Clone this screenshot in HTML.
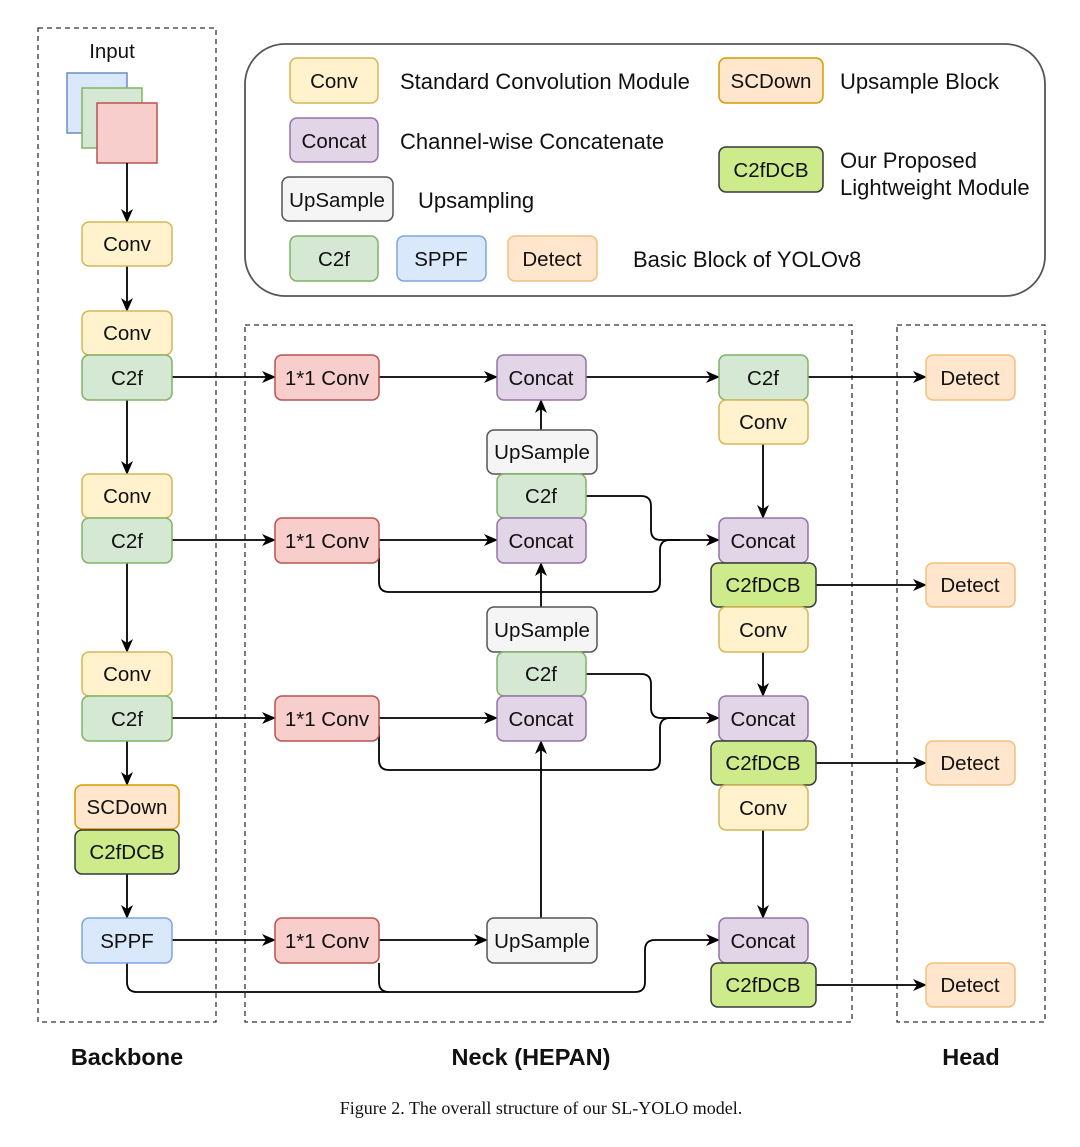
<!DOCTYPE html>
<html><head><meta charset="utf-8"><style>
body{margin:0;background:#fff}
svg text{font-family:"Liberation Sans",sans-serif;font-size:20.5px;fill:#111}
</style></head><body>
<svg width="1080" height="1142" viewBox="0 0 1080 1142" xmlns="http://www.w3.org/2000/svg">
<defs><marker id="a" markerWidth="14" markerHeight="12" refX="13" refY="6" orient="auto" markerUnits="userSpaceOnUse"><path d="M0,0 L14,6 L0,12 L4,6 z" fill="#000"/></marker></defs>
<rect width="1080" height="1142" fill="#fff"/>
<g fill="none" stroke="#333" stroke-width="1.3" stroke-dasharray="5,4">
<rect x="38" y="28" width="178" height="994"/>
<rect x="245" y="325" width="607" height="697"/>
<rect x="897" y="325" width="148" height="697"/>
</g>
<rect x="245" y="44" width="800" height="252" rx="40" fill="none" stroke="#555" stroke-width="1.8"/>
<text x="112" y="58" text-anchor="middle">Input</text>
<rect x="67" y="73" width="60" height="60" fill="#dae8fc" stroke="#6c8ebf" stroke-width="1.5"/>
<rect x="82" y="88" width="60" height="60" fill="#d5e8d4" stroke="#82b366" stroke-width="1.5"/>
<rect x="97" y="103" width="60" height="60" fill="#f8cecc" stroke="#b85450" stroke-width="1.5"/>
<g fill="none" stroke="#000" stroke-width="1.8">
<path d="M127,163V222" marker-end="url(#a)"/>
<path d="M127,266V311" marker-end="url(#a)"/>
<path d="M127,400V474" marker-end="url(#a)"/>
<path d="M127,563V652" marker-end="url(#a)"/>
<path d="M127,741V785" marker-end="url(#a)"/>
<path d="M127,874V918" marker-end="url(#a)"/>
<path d="M172,377H275" marker-end="url(#a)"/>
<path d="M172,540H275" marker-end="url(#a)"/>
<path d="M172,718H275" marker-end="url(#a)"/>
<path d="M172,940H275" marker-end="url(#a)"/>
<path d="M379,377H497" marker-end="url(#a)"/>
<path d="M586,377H719" marker-end="url(#a)"/>
<path d="M808,377H926" marker-end="url(#a)"/>
<path d="M541,430V400" marker-end="url(#a)"/>
<path d="M379,540H497" marker-end="url(#a)"/>
<path d="M379,548V582Q379,592 389,592H650Q660,592 660,582V550Q660,540 670,540H719" marker-end="url(#a)"/>
<path d="M586,496H641Q651,496 651,506V530Q651,540 661,540H680"/>
<path d="M541,607V563" marker-end="url(#a)"/>
<path d="M379,718H497" marker-end="url(#a)"/>
<path d="M379,726V760Q379,770 389,770H650Q660,770 660,760V728Q660,718 670,718H719" marker-end="url(#a)"/>
<path d="M586,674H641Q651,674 651,684V708Q651,718 661,718H680"/>
<path d="M541,918V741" marker-end="url(#a)"/>
<path d="M379,940H487" marker-end="url(#a)"/>
<path d="M127,963V982Q127,992 137,992H635Q645,992 645,982V950Q645,940 655,940H719" marker-end="url(#a)"/>
<path d="M379,963V982Q379,992 389,992"/>
<path d="M763,444V518" marker-end="url(#a)"/>
<path d="M763,652V696" marker-end="url(#a)"/>
<path d="M763,830V918" marker-end="url(#a)"/>
<path d="M816,585H926" marker-end="url(#a)"/>
<path d="M816,763H926" marker-end="url(#a)"/>
<path d="M816,985H926" marker-end="url(#a)"/>
</g>
<g stroke-width="1.5">
<rect x="290" y="58" width="88" height="45" rx="7" fill="#fff2cc" stroke="#d6b656"/><text x="334" y="88" text-anchor="middle">Conv</text>
<rect x="290" y="118" width="88" height="44" rx="7" fill="#e1d5e7" stroke="#9673a6"/><text x="334" y="148" text-anchor="middle">Concat</text>
<rect x="282" y="177" width="111" height="44" rx="7" fill="#f5f5f5" stroke="#555"/><text x="337" y="207" text-anchor="middle">UpSample</text>
<rect x="290" y="236" width="88" height="45" rx="7" fill="#d5e8d4" stroke="#82b366"/><text x="334" y="266" text-anchor="middle">C2f</text>
<rect x="397" y="236" width="89" height="45" rx="7" fill="#dae8fc" stroke="#7ea6e0"/><text x="441" y="266" text-anchor="middle">SPPF</text>
<rect x="508" y="236" width="89" height="45" rx="7" fill="#ffe6cc" stroke="#f0c080"/><text x="552" y="266" text-anchor="middle">Detect</text>
<rect x="719" y="58" width="104" height="45" rx="7" fill="#ffe6cc" stroke="#d79b00"/><text x="771" y="88" text-anchor="middle">SCDown</text>
<rect x="719" y="147" width="104" height="45" rx="7" fill="#cdeb8b" stroke="#36393d"/><text x="771" y="177" text-anchor="middle">C2fDCB</text>
<rect x="82" y="222" width="90" height="44" rx="7" fill="#fff2cc" stroke="#d6b656"/><text x="127" y="251" text-anchor="middle">Conv</text>
<rect x="82" y="311" width="90" height="44" rx="7" fill="#fff2cc" stroke="#d6b656"/><text x="127" y="340" text-anchor="middle">Conv</text>
<rect x="82" y="355" width="90" height="45" rx="7" fill="#d5e8d4" stroke="#82b366"/><text x="127" y="385" text-anchor="middle">C2f</text>
<rect x="82" y="474" width="90" height="44" rx="7" fill="#fff2cc" stroke="#d6b656"/><text x="127" y="503" text-anchor="middle">Conv</text>
<rect x="82" y="518" width="90" height="45" rx="7" fill="#d5e8d4" stroke="#82b366"/><text x="127" y="548" text-anchor="middle">C2f</text>
<rect x="82" y="652" width="90" height="44" rx="7" fill="#fff2cc" stroke="#d6b656"/><text x="127" y="681" text-anchor="middle">Conv</text>
<rect x="82" y="696" width="90" height="45" rx="7" fill="#d5e8d4" stroke="#82b366"/><text x="127" y="726" text-anchor="middle">C2f</text>
<rect x="75" y="785" width="104" height="44" rx="7" fill="#ffe6cc" stroke="#d79b00"/><text x="127" y="814" text-anchor="middle">SCDown</text>
<rect x="75" y="830" width="104" height="44" rx="7" fill="#cdeb8b" stroke="#36393d"/><text x="127" y="859" text-anchor="middle">C2fDCB</text>
<rect x="82" y="918" width="90" height="45" rx="7" fill="#dae8fc" stroke="#7ea6e0"/><text x="127" y="948" text-anchor="middle">SPPF</text>
<rect x="275" y="355" width="104" height="45" rx="7" fill="#f8cecc" stroke="#b85450"/><text x="327" y="385" text-anchor="middle">1*1 Conv</text>
<rect x="275" y="518" width="104" height="45" rx="7" fill="#f8cecc" stroke="#b85450"/><text x="327" y="548" text-anchor="middle">1*1 Conv</text>
<rect x="275" y="696" width="104" height="45" rx="7" fill="#f8cecc" stroke="#b85450"/><text x="327" y="726" text-anchor="middle">1*1 Conv</text>
<rect x="275" y="918" width="104" height="45" rx="7" fill="#f8cecc" stroke="#b85450"/><text x="327" y="948" text-anchor="middle">1*1 Conv</text>
<rect x="497" y="355" width="89" height="45" rx="7" fill="#e1d5e7" stroke="#9673a6"/><text x="541" y="385" text-anchor="middle">Concat</text>
<rect x="487" y="430" width="110" height="44" rx="7" fill="#f5f5f5" stroke="#555"/><text x="542" y="459" text-anchor="middle">UpSample</text>
<rect x="497" y="474" width="89" height="44" rx="7" fill="#d5e8d4" stroke="#82b366"/><text x="541" y="503" text-anchor="middle">C2f</text>
<rect x="497" y="518" width="89" height="45" rx="7" fill="#e1d5e7" stroke="#9673a6"/><text x="541" y="548" text-anchor="middle">Concat</text>
<rect x="487" y="607" width="110" height="45" rx="7" fill="#f5f5f5" stroke="#555"/><text x="542" y="637" text-anchor="middle">UpSample</text>
<rect x="497" y="652" width="89" height="44" rx="7" fill="#d5e8d4" stroke="#82b366"/><text x="541" y="681" text-anchor="middle">C2f</text>
<rect x="497" y="696" width="89" height="45" rx="7" fill="#e1d5e7" stroke="#9673a6"/><text x="541" y="726" text-anchor="middle">Concat</text>
<rect x="487" y="918" width="110" height="45" rx="7" fill="#f5f5f5" stroke="#555"/><text x="542" y="948" text-anchor="middle">UpSample</text>
<rect x="719" y="355" width="89" height="45" rx="7" fill="#d5e8d4" stroke="#82b366"/><text x="763" y="385" text-anchor="middle">C2f</text>
<rect x="719" y="400" width="89" height="44" rx="7" fill="#fff2cc" stroke="#d6b656"/><text x="763" y="429" text-anchor="middle">Conv</text>
<rect x="719" y="518" width="89" height="45" rx="7" fill="#e1d5e7" stroke="#9673a6"/><text x="763" y="548" text-anchor="middle">Concat</text>
<rect x="711" y="563" width="105" height="44" rx="7" fill="#cdeb8b" stroke="#36393d"/><text x="763" y="592" text-anchor="middle">C2fDCB</text>
<rect x="719" y="607" width="89" height="45" rx="7" fill="#fff2cc" stroke="#d6b656"/><text x="763" y="637" text-anchor="middle">Conv</text>
<rect x="719" y="696" width="89" height="45" rx="7" fill="#e1d5e7" stroke="#9673a6"/><text x="763" y="726" text-anchor="middle">Concat</text>
<rect x="711" y="741" width="105" height="44" rx="7" fill="#cdeb8b" stroke="#36393d"/><text x="763" y="770" text-anchor="middle">C2fDCB</text>
<rect x="719" y="785" width="89" height="45" rx="7" fill="#fff2cc" stroke="#d6b656"/><text x="763" y="815" text-anchor="middle">Conv</text>
<rect x="719" y="918" width="89" height="45" rx="7" fill="#e1d5e7" stroke="#9673a6"/><text x="763" y="948" text-anchor="middle">Concat</text>
<rect x="711" y="963" width="105" height="44" rx="7" fill="#cdeb8b" stroke="#36393d"/><text x="763" y="992" text-anchor="middle">C2fDCB</text>
<rect x="926" y="355" width="89" height="45" rx="7" fill="#ffe6cc" stroke="#f0c080"/><text x="970" y="385" text-anchor="middle">Detect</text>
<rect x="926" y="563" width="89" height="44" rx="7" fill="#ffe6cc" stroke="#f0c080"/><text x="970" y="592" text-anchor="middle">Detect</text>
<rect x="926" y="741" width="89" height="44" rx="7" fill="#ffe6cc" stroke="#f0c080"/><text x="970" y="770" text-anchor="middle">Detect</text>
<rect x="926" y="963" width="89" height="44" rx="7" fill="#ffe6cc" stroke="#f0c080"/><text x="970" y="992" text-anchor="middle">Detect</text>
</g>
<g style="font-size:22px">
<text x="400" y="89" style="font-size:22px">Standard Convolution Module</text>
<text x="400" y="149" style="font-size:22px">Channel-wise Concatenate</text>
<text x="418" y="208" style="font-size:22px">Upsampling</text>
<text x="633" y="267" style="font-size:22px">Basic Block of YOLOv8</text>
<text x="840" y="89" style="font-size:22px">Upsample Block</text>
<text x="840" y="168" style="font-size:22px">Our Proposed</text>
<text x="840" y="195" style="font-size:22px">Lightweight Module</text>
</g>
<text x="127" y="1065" text-anchor="middle" style="font-weight:bold;font-size:23.5px">Backbone</text>
<text x="531" y="1065" text-anchor="middle" style="font-weight:bold;font-size:23.5px">Neck (HEPAN)</text>
<text x="971" y="1065" text-anchor="middle" style="font-weight:bold;font-size:23.5px">Head</text>
<text x="541" y="1114" text-anchor="middle" style="font-family:'Liberation Serif',serif;font-size:18px">Figure 2. The overall structure of our SL-YOLO model.</text>
</svg>
</body></html>
